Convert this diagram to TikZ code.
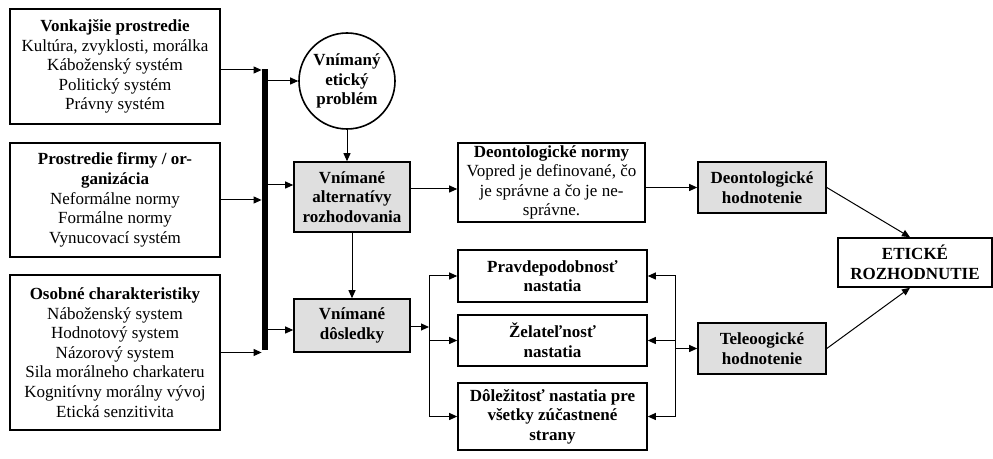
\documentclass[tikz,border=0pt]{standalone}
\usepackage{fontspec}
\setmainfont{Liberation Serif}
\usetikzlibrary{arrows.meta}
\begin{document}
\begin{tikzpicture}[x=0.5pt,y=-0.5pt,
  boxstyle/.style={draw, line width=0.8pt, align=center, inner sep=0pt, font=\fontsize{8.5}{9.8}\selectfont},
  boldbox/.style={boxstyle, font=\fontsize{8.5}{9.8}\selectfont\bfseries},
  greybox/.style={boldbox, fill=gray!25},
  circlestyle/.style={circle, draw, line width=0.8pt, align=center, inner sep=0pt, minimum size=48pt, font=\fontsize{8.5}{9.8}\selectfont\bfseries},
  arr/.style={-{Triangle[length=4pt,width=3.5pt]}, line width=0.5pt}]
  \useasboundingbox (0,0) rectangle (993,459);

  % left column
  \node[boxstyle, minimum width=105pt, minimum height=57.5pt] (env) at (115,66.5)
    {\textbf{Vonkajšie prostredie}\\Kultúra, zvyklosti, morálka\\Kábožensk\'y systém\\Politický systém\\Právny systém};
  \node[boxstyle, minimum width=105pt, minimum height=57pt] (firm) at (115,200)
    {\textbf{Prostredie firmy / or-}\\\textbf{ganizácia}\\Neformálne normy\\Formálne normy\\Vynucovací systém};
  \node[boxstyle, minimum width=105pt, minimum height=77.5pt] (pers) at (115,352.5)
    {\textbf{Osobné charakteristiky}\\Náboženský system\\Hodnotový system\\Názorový system\\Sila morálneho charkateru\\Kognitívny morálny vývoj\\Etická senzitivita};
  \node[fill=black, inner sep=0pt, minimum width=3pt, minimum height=140.5pt] (bar) at (265,209.5) {};

  \coordinate (envout) at ([yshift=-1.75pt]env.east);
  \draw[arr] (envout) -- (envout -| bar.west);
  \draw[arr] (firm.east) -- (firm.east -| bar.west);
  \draw[arr] (pers.east) -- (pers.east -| bar.west);

  % middle column
  \node[circlestyle] (prob) at (347,81) {Vnímaný\\etický\\problém};
  \node[greybox, minimum width=58pt, minimum height=35pt] (alt) at (352,197) {Vnímané\\alternatívy\\rozhodovania};
  \node[greybox, minimum width=58pt, minimum height=26.5pt] (cons) at (352,325.5) {Vnímané\\dôsledky};

  \coordinate (altin) at ([yshift=6pt]alt.west);
  \coordinate (consin) at ([yshift=-2.25pt]cons.west);
  \draw[arr] (bar.east |- prob.west) -- (prob.west);
  \draw[arr] (bar.east |- altin) -- (altin);
  \draw[arr] (bar.east |- consin) -- (consin);
  \draw[arr] (prob.south) -- (prob.south |- alt.north);
  \draw[arr] (alt.south) -- (cons.north);

  % deontological branch
  \node[boxstyle, minimum width=93.5pt, minimum height=39.5pt] (deon) at (551.5,182.5)
    {\textbf{Deontologické normy}\\Vopred je definované, čo\\je správne a čo je ne-\\správne.};
  \node[greybox, minimum width=64pt, minimum height=25.5pt] (deonh) at (762,187.5) {Deontologické\\hodnotenie};
  \coordinate (altout) at ([yshift=4pt]alt.east);
  \draw[arr] (altout) -- (altout -| deon.west);
  \draw[arr] (deon.east |- deonh.west) -- (deonh.west);

  % teleological branch
  \node[boldbox, minimum width=94.5pt, minimum height=26pt] (prav) at (552.5,276) {Pravdepodobnosť\\nastatia};
  \node[boldbox, minimum width=94.5pt, minimum height=25.5pt] (zel) at (552.5,340.5) {Želateľnosť\\nastatia};
  \node[boldbox, minimum width=94.5pt, minimum height=33.5pt] (dol) at (552.5,416.5) {Dôležitosť nastatia pre\\všetky zúčastnené\\strany};
  \node[greybox, minimum width=64pt, minimum height=25.5pt] (tele) at (762,348.5) {Teleoogické\\hodnotenie};

  \coordinate (jl) at (429,327);
  \coordinate (jr) at (675,348.5);
  \draw[arr] (cons.east |- jl) -- (jl);
  \draw[arr] (jl) |- (prav.west);
  \draw[arr] (jl) |- (zel.west);
  \draw[arr] (jl) |- (dol.west);
  \draw[arr] (jr) |- (prav.east);
  \draw[arr] (jr) |- (zel.east);
  \draw[arr] (jr) |- (dol.east);
  \draw[arr] (jr) -- (tele.west);

  % decision
  \node[boldbox, minimum width=77pt, minimum height=24.5pt] (etic) at (915,262.5) {ETICKÉ\\ROZHODNUTIE};
  \coordinate (eticn) at ([xshift=-2.5pt]etic.north);
  \coordinate (etics) at ([xshift=-2.5pt]etic.south);
  \draw[arr] (deonh.east) -- (eticn);
  \draw[arr] (tele.east) -- (etics);
\end{tikzpicture}
\end{document}
